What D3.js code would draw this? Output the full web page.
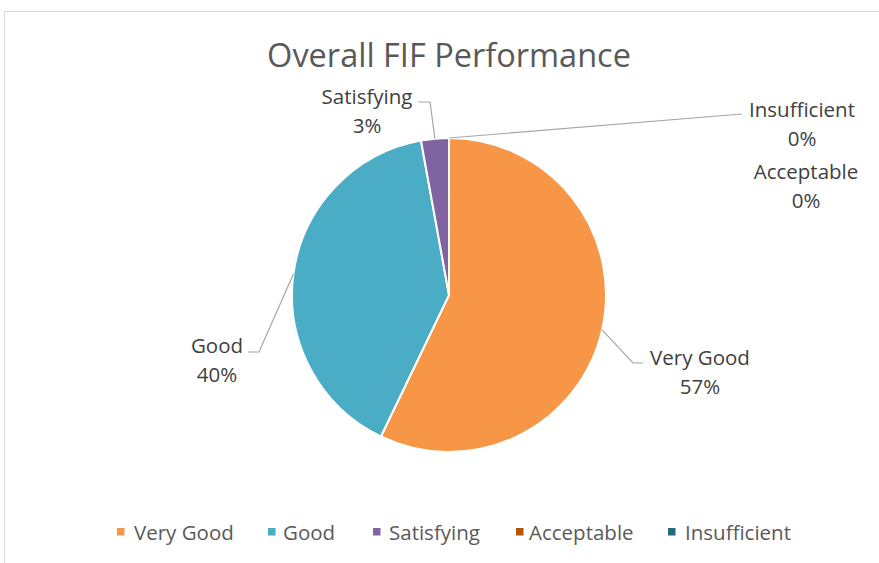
<!DOCTYPE html>
<html>
<head>
<meta charset="utf-8">
<script src="https://cdn.jsdelivr.net/npm/d3@7"></script>
<style>
  html, body { margin: 0; padding: 0; background: #fff; }
  svg { display: block; }
</style>
</head>
<body>
<svg id="chart" width="879" height="563"></svg>
<script>
// ---- data ----
const title = "Overall FIF Performance";
const categories = ["Very Good", "Good", "Satisfying", "Acceptable", "Insufficient"];
const counts = [20, 14, 1, 0, 0];
const percentLabels = ["57%", "40%", "3%", "0%", "0%"];
const colors = ["#F79646", "#4BACC6", "#8064A2", "#B65708", "#246A7D"];

// ---- layout (offsets relative to pie centre) ----
const W = 879, H = 563;
const cx = 449, cy = 295, R = 157;
const font = "'Open Sans', 'Liberation Sans', sans-serif";
// label text centre (dx, baseline dy) and leader-line elbow/end points
const labelLayout = [
  { tx: 251, ty: 70, pts: [[184, 68], [194, 68]] },
  { tx: -232, ty: 58, pts: [[-190, 57], [-201, 57]] },
  { tx: -82, ty: -191, pts: [[-19, -193], [-31, -193]] },
  { tx: 357, ty: -116, pts: null },
  { tx: 353, ty: -178, pts: [[293, -181]] }
];

const svg = d3.select("#chart");

// chart border
svg.append("rect")
  .attr("x", 4.5).attr("y", 11.5)
  .attr("width", W).attr("height", H)
  .attr("fill", "none").attr("stroke", "#d9d9d9").attr("stroke-width", 1);

// title
svg.append("text")
  .attr("x", cx).attr("y", 67)
  .attr("text-anchor", "middle")
  .attr("font-family", font).attr("font-size", 32.5)
  .attr("fill", "#595959")
  .text(title);

const pie = d3.pie().sort(null).value(d => d)(counts);
const arc = d3.arc().innerRadius(0).outerRadius(R);

const g = svg.append("g").attr("transform", `translate(${cx},${cy})`);

g.selectAll("path.slice")
  .data(pie)
  .join("path")
  .attr("class", "slice")
  .attr("d", arc)
  .attr("fill", (d, i) => colors[i])
  .attr("stroke", "#fff")
  .attr("stroke-width", 2)
  .attr("stroke-linejoin", "round");

// leader lines
pie.forEach((d, i) => {
  const L = labelLayout[i];
  if (!L.pts) return;
  const mid = (d.startAngle + d.endAngle) / 2;
  const start = [Math.sin(mid) * R, -Math.cos(mid) * R];
  const line = d3.line()([start, ...L.pts]);
  g.append("path")
    .attr("d", line)
    .attr("fill", "none")
    .attr("stroke", "#a6a6a6")
    .attr("stroke-width", 1.2);
});

// data labels
pie.forEach((d, i) => {
  const L = labelLayout[i];
  const t = g.append("text")
    .attr("text-anchor", "middle")
    .attr("font-family", font).attr("font-size", 20.5)
    .attr("fill", "#404040");
  t.append("tspan").attr("x", L.tx).attr("y", L.ty).text(categories[i]);
  t.append("tspan").attr("x", L.tx).attr("y", L.ty + 29).text(percentLabels[i]);
});

// legend
const legendSwatchX = [117, 268, 373, 516, 668];
const legendTextX = [134, 283, 389, 529, 685];
const legend = svg.append("g");
categories.forEach((c, i) => {
  legend.append("rect")
    .attr("x", legendSwatchX[i]).attr("y", 528)
    .attr("width", 7.5).attr("height", 7.5)
    .attr("fill", colors[i]);
  legend.append("text")
    .attr("x", legendTextX[i]).attr("y", 540)
    .attr("font-family", font).attr("font-size", 20.5)
    .attr("fill", "#595959")
    .text(c);
});
</script>
</body>
</html>
